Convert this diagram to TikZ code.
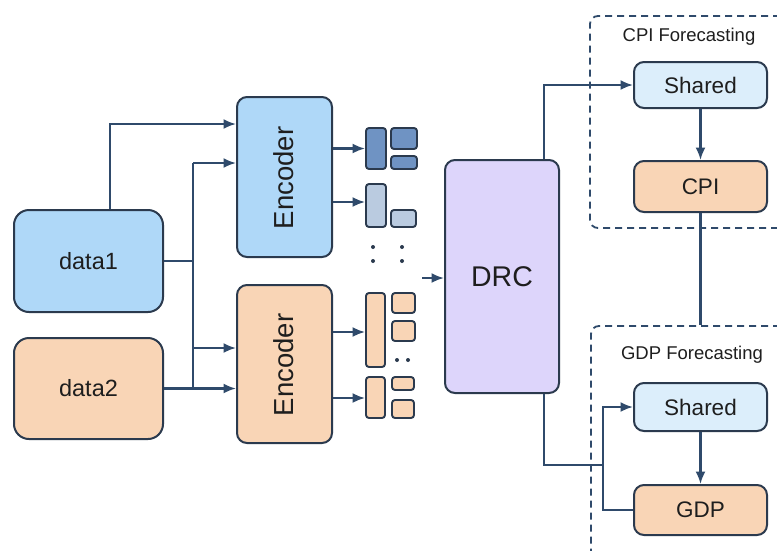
\documentclass[tikz,border=0pt]{standalone}
\usepackage{fontspec}
\setmainfont{Liberation Sans}
\usetikzlibrary{arrows.meta}
\definecolor{navy}{HTML}{2F4A6B}
\definecolor{edge}{HTML}{2B3A4E}
\definecolor{bluef}{HTML}{AFD8F8}
\definecolor{peachf}{HTML}{F9D5B6}
\definecolor{lavf}{HTML}{DDD5FB}
\definecolor{sharedf}{HTML}{DCEEFB}
\definecolor{darkblk}{HTML}{6F93C3}
\definecolor{lightblk}{HTML}{BACBE0}
\definecolor{txt}{HTML}{1E1E1E}
\tikzset{
  box/.style={draw=edge, line width=2pt, rounded corners=10pt, inner sep=0pt, text=txt},
  blk/.style={draw=edge, line width=1.9pt, rounded corners=3pt, inner sep=0pt},
  grp/.style={draw=navy, line width=1.8pt, dash pattern=on 7pt off 5pt, rounded corners=8pt, inner sep=0pt},
  conn/.style={draw=navy, line width=2.2pt},
  arr/.style={conn, -{Latex[length=12.5pt,width=10pt]}},
  dotm/.style={fill=edge, draw=none}
}
\begin{document}
\begin{tikzpicture}[x=1pt,y=-1pt]
\useasboundingbox (0,0) rectangle (777,550);
\fill[white] (0,0) rectangle (777,550);
\clip (0,0) rectangle (777,550);

% groups
\node[grp, minimum width=210, minimum height=212] (g1) at (695,122) {};
\node[grp, minimum width=209, minimum height=244] (g2) at (695.5,448) {};
\node[text=txt, font=\fontsize{18.5}{20}\selectfont] (l1) at (689,37) {CPI Forecasting};
\node[text=txt, font=\fontsize{18.5}{20}\selectfont] (l2) at (692,355) {GDP Forecasting};

% inputs
\node[box, rounded corners=15pt, fill=bluef, minimum width=149, minimum height=102, font=\fontsize{23.5}{26}\selectfont] (d1) at (88.5,261) {data1};
\node[box, rounded corners=15pt, fill=peachf, minimum width=149, minimum height=101, font=\fontsize{23.5}{26}\selectfont] (d2) at (88.5,388.5) {data2};

% encoders
\node[box, fill=bluef, minimum width=95, minimum height=160] (e1) at (284.5,177) {};
\node[text=txt, rotate=90, font=\fontsize{27.5}{30}\selectfont] (e1t) at (284,178) {Encoder};
\node[box, fill=peachf, minimum width=95, minimum height=158] (e2) at (284.5,364) {};
\node[text=txt, rotate=90, font=\fontsize{27.5}{30}\selectfont] (e2t) at (284,365) {Encoder};

% DRC
\node[box, fill=lavf, minimum width=114, minimum height=233, font=\fontsize{28.5}{30}\selectfont] (drc) at (502,276.5) {DRC};

% heads
\node[box, fill=sharedf, minimum width=133, minimum height=46, font=\fontsize{22.5}{24}\selectfont] (s1) at (700.5,85) {Shared};
\node[box, fill=peachf, minimum width=133, minimum height=51, font=\fontsize{22.5}{24}\selectfont] (cpi) at (700.5,186.5) {CPI};
\node[box, fill=sharedf, minimum width=133, minimum height=48, font=\fontsize{22.5}{24}\selectfont] (s2) at (700.5,407) {Shared};
\node[box, fill=peachf, minimum width=133, minimum height=50, font=\fontsize{22.5}{24}\selectfont] (gdp) at (700.5,510) {GDP};

% feature blocks
\node[blk, fill=darkblk, minimum width=20, minimum height=41] (b1) at (376,148.5) {};
\node[blk, fill=darkblk, minimum width=26, minimum height=21] (b1a) at (404,138.5) {};
\node[blk, fill=darkblk, minimum width=26, minimum height=13] (b1b) at (404,162.5) {};
\node[blk, fill=lightblk, minimum width=20, minimum height=43] (b2) at (376,205.5) {};
\node[blk, fill=lightblk, minimum width=25, minimum height=17] (b2a) at (403.5,218.5) {};
\node[blk, fill=peachf, minimum width=19, minimum height=74] (p1) at (375.5,330) {};
\node[blk, fill=peachf, minimum width=23, minimum height=20] (p1a) at (403.5,303) {};
\node[blk, fill=peachf, minimum width=23, minimum height=20] (p1b) at (403.5,331) {};
\node[blk, fill=peachf, minimum width=19, minimum height=41] (p2) at (375.5,397.5) {};
\node[blk, fill=peachf, minimum width=22, minimum height=13] (p2a) at (403,383.5) {};
\node[blk, fill=peachf, minimum width=22, minimum height=18] (p2b) at (403,409) {};
\foreach \x/\y in {373/247, 402/247, 373/261, 402/261, 397/360, 408/360}
  \fill[dotm] (\x,\y) circle (2);

% coordinates
\coordinate (t1) at (110,124);
\coordinate (tk1) at (193,163);
\coordinate (tk2) at (193,348);
\coordinate (ya) at (0,148.5);
\coordinate (yb) at (0,202);
\coordinate (yc) at (0,332);
\coordinate (yd) at (0,398);
\coordinate (din) at (422,278);
\coordinate (u1) at (544,85);
\coordinate (v1) at (544,465);
\coordinate (w1) at (603,465);

% connectors: inputs
\draw[arr] (d1.north -| t1) |- (e1.west |- t1);
\draw[conn] (d1.east) -- (d1.east -| tk1);
\draw[conn] (tk1) -- (tk1 |- d2.east);
\draw[arr] (tk1) -- (e1.west |- tk1);
\draw[arr] (tk2) -- (e2.west |- tk2);
\draw[arr] (d2.east) -- (e2.west |- d2.east);

% encoder outputs
\draw[arr] (e1.east |- ya) -- (b1.west |- ya);
\draw[arr] (e1.east |- yb) -- (b2.west |- yb);
\draw[arr] (e2.east |- yc) -- (p1.west |- yc);
\draw[arr] (e2.east |- yd) -- (p2.west |- yd);

% into DRC
\draw[arr] (din) -- (drc.west |- din);

% DRC outputs
\draw[arr] (drc.north -| u1) |- (s1.west);
\draw[arr] (s1.south) -- (cpi.north);
\draw[conn] (cpi.south) -- (g2.north -| cpi.south);
\draw[conn] (drc.south -| v1) |- (w1);
\draw[arr] (w1) |- (s2.west);
\draw[conn] (w1) |- (gdp.west);
\draw[arr] (s2.south) -- (gdp.north);
\end{tikzpicture}
\end{document}
